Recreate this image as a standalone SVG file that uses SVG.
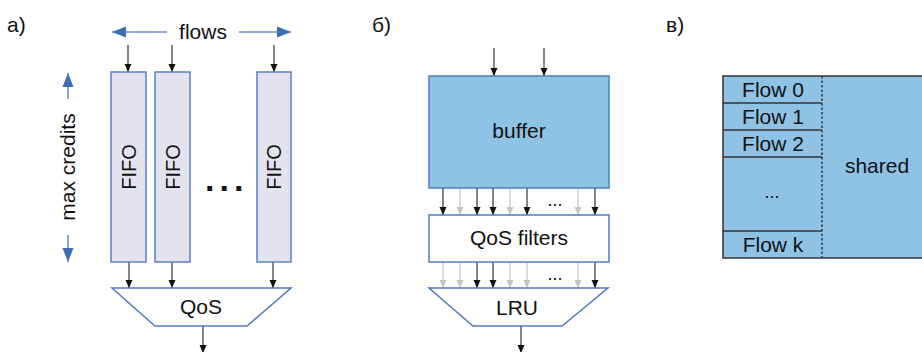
<svg xmlns="http://www.w3.org/2000/svg" width="922" height="352" viewBox="0 0 922 352">
<defs>
<marker id="ah" markerUnits="userSpaceOnUse" markerWidth="8" markerHeight="8" viewBox="0 0 8 8" refX="8" refY="4" orient="auto"><path d="M0,0.5 L8,4 L0,7.5 z" fill="#111"/></marker>
<marker id="ahg" markerUnits="userSpaceOnUse" markerWidth="8" markerHeight="8" viewBox="0 0 8 8" refX="8" refY="4" orient="auto"><path d="M0,0.5 L8,4 L0,7.5 z" fill="#c4c4c4"/></marker>
<marker id="ahb" markerUnits="userSpaceOnUse" markerWidth="14" markerHeight="12" viewBox="0 0 14 12" refX="14" refY="6" orient="auto"><path d="M0,0.5 L14,6 L0,11.5 z" fill="#3d6db3"/></marker>
</defs>
<style>
text{font-family:"Liberation Sans",Arial,sans-serif;font-size:21px;fill:#111}
.mid{text-anchor:middle}
.fifo{fill:#e3e3f0;stroke:#5b80c0;stroke-width:1.5}
.blk{stroke:#333;stroke-width:1.2;fill:none;marker-end:url(#ah)}
.gry{stroke:#c4c4c4;stroke-width:1.2;fill:none;marker-end:url(#ahg)}
.blue{stroke:#6d93cc;stroke-width:1.6;fill:none;marker-end:url(#ahb)}
.trap{fill:#fff;stroke:#4f7cbf;stroke-width:1.5}
.buf{fill:#8ec3e6;stroke:#4d7ebf;stroke-width:1.5}
.dots{font-weight:bold;font-size:34px;letter-spacing:5px}
.sd{font-size:18px}
</style>
<g id="labels">
<text x="7" y="32">a)</text>
<text x="372" y="32">б)</text>
<text x="666" y="32">в)</text>
</g>
<g id="connectors">
<line class="blue" x1="167" y1="32" x2="112" y2="32"/>
<line class="blue" x1="239" y1="32" x2="291" y2="32"/>
<line class="blue" x1="68" y1="99" x2="68" y2="73"/>
<line class="blue" x1="68" y1="235" x2="68" y2="262"/>
<line class="blk" x1="128" y1="45" x2="128" y2="72"/>
<line class="blk" x1="172" y1="45" x2="172" y2="72"/>
<line class="blk" x1="274" y1="45" x2="274" y2="72"/>
<line class="blk" x1="129" y1="262" x2="129" y2="288"/>
<line class="blk" x1="172" y1="262" x2="172" y2="288"/>
<line class="blk" x1="273" y1="262" x2="273" y2="288"/>
<line class="blk" x1="203" y1="326" x2="203" y2="353"/>
<line class="blk" x1="494" y1="48" x2="494" y2="76"/>
<line class="blk" x1="544" y1="48" x2="544" y2="76"/>
<line class="blk" x1="443" y1="188" x2="443" y2="215"/>
<line class="gry" x1="460" y1="188" x2="460" y2="215"/>
<line class="blk" x1="477" y1="188" x2="477" y2="215"/>
<line class="blk" x1="493" y1="188" x2="493" y2="215"/>
<line class="gry" x1="510" y1="188" x2="510" y2="215"/>
<line class="blk" x1="527" y1="188" x2="527" y2="215"/>
<line class="gry" x1="578" y1="188" x2="578" y2="215"/>
<line class="blk" x1="595" y1="188" x2="595" y2="215"/>
<line class="gry" x1="443" y1="262" x2="443" y2="288"/>
<line class="gry" x1="460" y1="262" x2="460" y2="288"/>
<line class="blk" x1="477" y1="262" x2="477" y2="288"/>
<line class="blk" x1="493" y1="262" x2="493" y2="288"/>
<line class="gry" x1="510" y1="262" x2="510" y2="288"/>
<line class="gry" x1="527" y1="262" x2="527" y2="288"/>
<line class="gry" x1="578" y1="262" x2="578" y2="288"/>
<line class="blk" x1="595" y1="262" x2="595" y2="288"/>
<line class="blk" x1="521" y1="326" x2="521" y2="353"/>
</g>
<g id="flows"><text class="mid" x="203" y="39">flows</text></g>
<g id="max-credits"><text class="mid" transform="translate(75,167) rotate(-90)">max credits</text></g>
<g id="fifo1"><rect class="fifo" x="111" y="72" width="35" height="190"/><text class="mid" style="font-size:20px" transform="translate(136,167) rotate(-90)">FIFO</text></g>
<g id="fifo2"><rect class="fifo" x="155" y="72" width="35" height="190"/><text class="mid" style="font-size:20px" transform="translate(180,167) rotate(-90)">FIFO</text></g>
<g id="fifo3"><rect class="fifo" x="257" y="72" width="34" height="190"/><text class="mid" style="font-size:20px" transform="translate(281,167) rotate(-90)">FIFO</text></g>
<g id="dots-a"><text class="dots" x="205" y="191">...</text></g>
<g id="qos"><polygon class="trap" points="112,288 291,288 247,326 155,326"/><text class="mid" x="201" y="314">QoS</text></g>
<g id="buffer"><rect class="buf" x="429" y="76" width="180" height="112"/><text class="mid" x="519" y="138">buffer</text></g>
<g id="dots-b1"><text class="mid sd" x="555" y="206">...</text></g>
<g id="qos-filters"><rect x="429" y="215" width="180" height="47" fill="#fff" stroke="#4f7cbf" stroke-width="1.5"/><text class="mid" x="519" y="245">QoS filters</text></g>
<g id="dots-b2"><text class="mid sd" x="555" y="280">...</text></g>
<g id="lru"><polygon class="trap" points="429,288 608,288 562,326 473,326"/><text class="mid" x="517" y="315">LRU</text></g>
<g id="memory">
<rect x="723" y="76" width="210" height="182" fill="#8ec3e6" stroke="#333" stroke-width="1.5"/>
<line x1="822" y1="76" x2="822" y2="258" stroke="#333" stroke-width="1.5" stroke-dasharray="2.5,2"/>
<line x1="723" y1="103" x2="822" y2="103" stroke="#333" stroke-width="1.5"/>
<line x1="723" y1="130" x2="822" y2="130" stroke="#333" stroke-width="1.5"/>
<line x1="723" y1="157" x2="822" y2="157" stroke="#333" stroke-width="1.5"/>
<line x1="723" y1="231" x2="822" y2="231" stroke="#333" stroke-width="1.5"/>
<text class="mid" x="773" y="97">Flow 0</text>
<text class="mid" x="773" y="124">Flow 1</text>
<text class="mid" x="773" y="151">Flow 2</text>
<text class="mid sd" x="772" y="198">...</text>
<text class="mid" x="773" y="252">Flow k</text>
<text class="mid" x="877" y="173">shared</text>
</g>
</svg>
